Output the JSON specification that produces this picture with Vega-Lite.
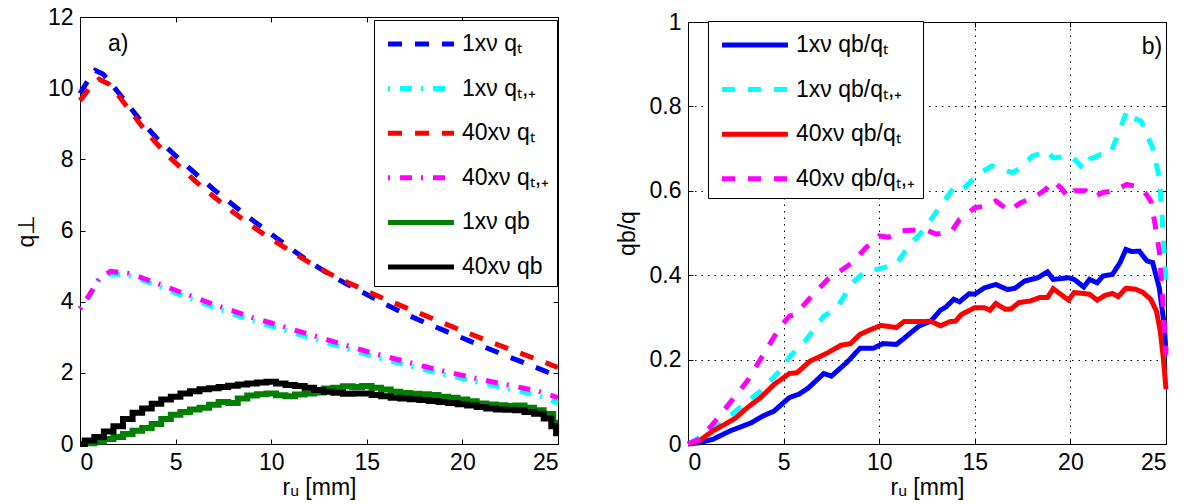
{
  "$schema": "https://vega.github.io/schema/vega-lite/v6.json",
  "padding": {"left": 14, "top": 5, "right": 0, "bottom": 0},
  "config": {
    "font": "Liberation Sans",
    "view": {"stroke": "black", "strokeWidth": 1},
    "axis": {
      "domain": false, "grid": false,
      "tickColor": "black", "tickSize": -5, "tickWidth": 1,
      "labelFont": "Liberation Sans", "labelFontSize": 23, "labelColor": "black", "labelPadding": 12,
      "titleFont": "Liberation Sans", "titleFontSize": 23, "titleFontWeight": "normal", "titleColor": "black"
    },
    "legend": {
      "labelFont": "Liberation Sans", "labelFontSize": 23, "labelColor": "black",
      "symbolType": "M-0.69,0H3.86", "symbolSize": 841, "symbolStrokeWidth": 5,
      "strokeColor": "black", "fillColor": "white", "padding": 7, "labelOffset": 47, "rowPadding": 15.6
    }
  },
  "resolve": {
    "scale": {"color": "independent", "strokeDash": "independent"},
    "legend": {"color": "independent", "strokeDash": "independent"}
  },
  "datasets": {
    "left": [
      {"s": "1xν qₜ", "r": 0, "q": 9.85}, {"s": "1xν qₜ", "r": 0.4, "q": 10.2}, {"s": "1xν qₜ", "r": 0.8, "q": 10.5}, {"s": "1xν qₜ", "r": 1.2, "q": 10.4},
      {"s": "1xν qₜ", "r": 1.6, "q": 10.15}, {"s": "1xν qₜ", "r": 2, "q": 9.88}, {"s": "1xν qₜ", "r": 2.5, "q": 9.55}, {"s": "1xν qₜ", "r": 3, "q": 9.2},
      {"s": "1xν qₜ", "r": 3.5, "q": 8.9}, {"s": "1xν qₜ", "r": 4, "q": 8.6}, {"s": "1xν qₜ", "r": 4.5, "q": 8.35}, {"s": "1xν qₜ", "r": 5, "q": 8.1},
      {"s": "1xν qₜ", "r": 6, "q": 7.62}, {"s": "1xν qₜ", "r": 7, "q": 7.15}, {"s": "1xν qₜ", "r": 8, "q": 6.72}, {"s": "1xν qₜ", "r": 9, "q": 6.3},
      {"s": "1xν qₜ", "r": 10, "q": 5.9}, {"s": "1xν qₜ", "r": 11, "q": 5.5}, {"s": "1xν qₜ", "r": 12, "q": 5.12}, {"s": "1xν qₜ", "r": 13, "q": 4.78},
      {"s": "1xν qₜ", "r": 14, "q": 4.48}, {"s": "1xν qₜ", "r": 15, "q": 4.2}, {"s": "1xν qₜ", "r": 16, "q": 3.92}, {"s": "1xν qₜ", "r": 17, "q": 3.66},
      {"s": "1xν qₜ", "r": 18, "q": 3.42}, {"s": "1xν qₜ", "r": 19, "q": 3.2}, {"s": "1xν qₜ", "r": 20, "q": 2.98}, {"s": "1xν qₜ", "r": 21, "q": 2.76},
      {"s": "1xν qₜ", "r": 22, "q": 2.54}, {"s": "1xν qₜ", "r": 23, "q": 2.33}, {"s": "1xν qₜ", "r": 24, "q": 2.12}, {"s": "1xν qₜ", "r": 25, "q": 1.9},

      {"s": "1xν qₜ,₊", "r": 0, "q": 3.8}, {"s": "1xν qₜ,₊", "r": 0.5, "q": 4.15}, {"s": "1xν qₜ,₊", "r": 1, "q": 4.6}, {"s": "1xν qₜ,₊", "r": 1.6, "q": 4.78},
      {"s": "1xν qₜ,₊", "r": 2.5, "q": 4.75}, {"s": "1xν qₜ,₊", "r": 3, "q": 4.66}, {"s": "1xν qₜ,₊", "r": 4, "q": 4.46}, {"s": "1xν qₜ,₊", "r": 5, "q": 4.24},
      {"s": "1xν qₜ,₊", "r": 6, "q": 4.04}, {"s": "1xν qₜ,₊", "r": 7, "q": 3.84}, {"s": "1xν qₜ,₊", "r": 8, "q": 3.65}, {"s": "1xν qₜ,₊", "r": 9, "q": 3.47},
      {"s": "1xν qₜ,₊", "r": 10, "q": 3.31}, {"s": "1xν qₜ,₊", "r": 11, "q": 3.15}, {"s": "1xν qₜ,₊", "r": 12, "q": 2.99}, {"s": "1xν qₜ,₊", "r": 13, "q": 2.83},
      {"s": "1xν qₜ,₊", "r": 14, "q": 2.67}, {"s": "1xν qₜ,₊", "r": 15, "q": 2.51}, {"s": "1xν qₜ,₊", "r": 16, "q": 2.37}, {"s": "1xν qₜ,₊", "r": 17, "q": 2.23},
      {"s": "1xν qₜ,₊", "r": 18, "q": 2.09}, {"s": "1xν qₜ,₊", "r": 19, "q": 1.96}, {"s": "1xν qₜ,₊", "r": 20, "q": 1.84}, {"s": "1xν qₜ,₊", "r": 21, "q": 1.72},
      {"s": "1xν qₜ,₊", "r": 22, "q": 1.6}, {"s": "1xν qₜ,₊", "r": 23, "q": 1.48}, {"s": "1xν qₜ,₊", "r": 24, "q": 1.36}, {"s": "1xν qₜ,₊", "r": 25, "q": 1.15},

      {"s": "40xν qₜ", "r": 0, "q": 9.65}, {"s": "40xν qₜ", "r": 0.5, "q": 10.0}, {"s": "40xν qₜ", "r": 1, "q": 10.25}, {"s": "40xν qₜ", "r": 1.5, "q": 10.12},
      {"s": "40xν qₜ", "r": 2, "q": 9.8}, {"s": "40xν qₜ", "r": 2.5, "q": 9.45}, {"s": "40xν qₜ", "r": 3, "q": 9.1}, {"s": "40xν qₜ", "r": 3.5, "q": 8.75},
      {"s": "40xν qₜ", "r": 4, "q": 8.45}, {"s": "40xν qₜ", "r": 4.5, "q": 8.15}, {"s": "40xν qₜ", "r": 5, "q": 7.9}, {"s": "40xν qₜ", "r": 6, "q": 7.4},
      {"s": "40xν qₜ", "r": 7, "q": 6.95}, {"s": "40xν qₜ", "r": 8, "q": 6.52}, {"s": "40xν qₜ", "r": 9, "q": 6.12}, {"s": "40xν qₜ", "r": 10, "q": 5.76},
      {"s": "40xν qₜ", "r": 11, "q": 5.42}, {"s": "40xν qₜ", "r": 12, "q": 5.1}, {"s": "40xν qₜ", "r": 13, "q": 4.8}, {"s": "40xν qₜ", "r": 14, "q": 4.54},
      {"s": "40xν qₜ", "r": 15, "q": 4.3}, {"s": "40xν qₜ", "r": 16, "q": 4.06}, {"s": "40xν qₜ", "r": 17, "q": 3.84}, {"s": "40xν qₜ", "r": 18, "q": 3.62},
      {"s": "40xν qₜ", "r": 19, "q": 3.4}, {"s": "40xν qₜ", "r": 20, "q": 3.18}, {"s": "40xν qₜ", "r": 21, "q": 2.97}, {"s": "40xν qₜ", "r": 22, "q": 2.76},
      {"s": "40xν qₜ", "r": 23, "q": 2.56}, {"s": "40xν qₜ", "r": 24, "q": 2.36}, {"s": "40xν qₜ", "r": 25, "q": 2.15},

      {"s": "40xν qₜ,₊", "r": 0, "q": 3.8}, {"s": "40xν qₜ,₊", "r": 0.5, "q": 4.2}, {"s": "40xν qₜ,₊", "r": 1, "q": 4.65}, {"s": "40xν qₜ,₊", "r": 1.6, "q": 4.85},
      {"s": "40xν qₜ,₊", "r": 2.5, "q": 4.8}, {"s": "40xν qₜ,₊", "r": 3, "q": 4.72}, {"s": "40xν qₜ,₊", "r": 4, "q": 4.52}, {"s": "40xν qₜ,₊", "r": 5, "q": 4.32},
      {"s": "40xν qₜ,₊", "r": 6, "q": 4.12}, {"s": "40xν qₜ,₊", "r": 7, "q": 3.92}, {"s": "40xν qₜ,₊", "r": 8, "q": 3.74}, {"s": "40xν qₜ,₊", "r": 9, "q": 3.56},
      {"s": "40xν qₜ,₊", "r": 10, "q": 3.4}, {"s": "40xν qₜ,₊", "r": 11, "q": 3.24}, {"s": "40xν qₜ,₊", "r": 12, "q": 3.08}, {"s": "40xν qₜ,₊", "r": 13, "q": 2.92},
      {"s": "40xν qₜ,₊", "r": 14, "q": 2.76}, {"s": "40xν qₜ,₊", "r": 15, "q": 2.6}, {"s": "40xν qₜ,₊", "r": 16, "q": 2.46}, {"s": "40xν qₜ,₊", "r": 17, "q": 2.32},
      {"s": "40xν qₜ,₊", "r": 18, "q": 2.18}, {"s": "40xν qₜ,₊", "r": 19, "q": 2.05}, {"s": "40xν qₜ,₊", "r": 20, "q": 1.93}, {"s": "40xν qₜ,₊", "r": 21, "q": 1.81},
      {"s": "40xν qₜ,₊", "r": 22, "q": 1.7}, {"s": "40xν qₜ,₊", "r": 23, "q": 1.59}, {"s": "40xν qₜ,₊", "r": 24, "q": 1.48}, {"s": "40xν qₜ,₊", "r": 25, "q": 1.3},

      {"s": "1xν qb", "r": 0, "q": 0}, {"s": "1xν qb", "r": 0.5, "q": 0.02}, {"s": "1xν qb", "r": 1, "q": 0.07}, {"s": "1xν qb", "r": 1.5, "q": 0.14},
      {"s": "1xν qb", "r": 2, "q": 0.2}, {"s": "1xν qb", "r": 2.5, "q": 0.28}, {"s": "1xν qb", "r": 3, "q": 0.37}, {"s": "1xν qb", "r": 3.5, "q": 0.45},
      {"s": "1xν qb", "r": 4, "q": 0.56}, {"s": "1xν qb", "r": 4.5, "q": 0.7}, {"s": "1xν qb", "r": 5, "q": 0.82}, {"s": "1xν qb", "r": 5.5, "q": 0.9},
      {"s": "1xν qb", "r": 6, "q": 0.97}, {"s": "1xν qb", "r": 6.5, "q": 1.02}, {"s": "1xν qb", "r": 7, "q": 1.1}, {"s": "1xν qb", "r": 7.5, "q": 1.18},
      {"s": "1xν qb", "r": 8, "q": 1.15}, {"s": "1xν qb", "r": 8.5, "q": 1.28}, {"s": "1xν qb", "r": 9, "q": 1.36}, {"s": "1xν qb", "r": 9.5, "q": 1.4},
      {"s": "1xν qb", "r": 10, "q": 1.42}, {"s": "1xν qb", "r": 10.5, "q": 1.37}, {"s": "1xν qb", "r": 11, "q": 1.34}, {"s": "1xν qb", "r": 11.5, "q": 1.39},
      {"s": "1xν qb", "r": 12, "q": 1.42}, {"s": "1xν qb", "r": 12.5, "q": 1.45}, {"s": "1xν qb", "r": 13, "q": 1.56}, {"s": "1xν qb", "r": 13.5, "q": 1.58},
      {"s": "1xν qb", "r": 14, "q": 1.62}, {"s": "1xν qb", "r": 14.5, "q": 1.6}, {"s": "1xν qb", "r": 15, "q": 1.63}, {"s": "1xν qb", "r": 15.5, "q": 1.58},
      {"s": "1xν qb", "r": 16, "q": 1.53}, {"s": "1xν qb", "r": 16.5, "q": 1.47}, {"s": "1xν qb", "r": 17, "q": 1.43}, {"s": "1xν qb", "r": 17.5, "q": 1.41},
      {"s": "1xν qb", "r": 18, "q": 1.4}, {"s": "1xν qb", "r": 18.5, "q": 1.38}, {"s": "1xν qb", "r": 19, "q": 1.33}, {"s": "1xν qb", "r": 19.5, "q": 1.3},
      {"s": "1xν qb", "r": 20, "q": 1.25}, {"s": "1xν qb", "r": 20.5, "q": 1.2}, {"s": "1xν qb", "r": 21, "q": 1.14}, {"s": "1xν qb", "r": 21.5, "q": 1.11},
      {"s": "1xν qb", "r": 22, "q": 1.09}, {"s": "1xν qb", "r": 22.5, "q": 1.07}, {"s": "1xν qb", "r": 23, "q": 1.08}, {"s": "1xν qb", "r": 23.5, "q": 1.02},
      {"s": "1xν qb", "r": 24, "q": 0.95}, {"s": "1xν qb", "r": 24.5, "q": 0.84}, {"s": "1xν qb", "r": 25, "q": 0.6},

      {"s": "40xν qb", "r": 0, "q": 0}, {"s": "40xν qb", "r": 0.5, "q": 0.1}, {"s": "40xν qb", "r": 1, "q": 0.2}, {"s": "40xν qb", "r": 1.5, "q": 0.35},
      {"s": "40xν qb", "r": 2, "q": 0.5}, {"s": "40xν qb", "r": 2.5, "q": 0.7}, {"s": "40xν qb", "r": 3, "q": 0.88}, {"s": "40xν qb", "r": 3.5, "q": 1.0},
      {"s": "40xν qb", "r": 4, "q": 1.13}, {"s": "40xν qb", "r": 4.5, "q": 1.25}, {"s": "40xν qb", "r": 5, "q": 1.33}, {"s": "40xν qb", "r": 5.5, "q": 1.42},
      {"s": "40xν qb", "r": 6, "q": 1.48}, {"s": "40xν qb", "r": 6.5, "q": 1.54}, {"s": "40xν qb", "r": 7, "q": 1.57}, {"s": "40xν qb", "r": 7.5, "q": 1.6},
      {"s": "40xν qb", "r": 8, "q": 1.64}, {"s": "40xν qb", "r": 8.5, "q": 1.67}, {"s": "40xν qb", "r": 9, "q": 1.7}, {"s": "40xν qb", "r": 9.5, "q": 1.73},
      {"s": "40xν qb", "r": 10, "q": 1.75}, {"s": "40xν qb", "r": 10.5, "q": 1.7}, {"s": "40xν qb", "r": 11, "q": 1.66}, {"s": "40xν qb", "r": 11.5, "q": 1.63},
      {"s": "40xν qb", "r": 12, "q": 1.58}, {"s": "40xν qb", "r": 12.5, "q": 1.52}, {"s": "40xν qb", "r": 13, "q": 1.47}, {"s": "40xν qb", "r": 13.5, "q": 1.44},
      {"s": "40xν qb", "r": 14, "q": 1.41}, {"s": "40xν qb", "r": 14.5, "q": 1.42}, {"s": "40xν qb", "r": 15, "q": 1.42}, {"s": "40xν qb", "r": 15.5, "q": 1.38},
      {"s": "40xν qb", "r": 16, "q": 1.34}, {"s": "40xν qb", "r": 16.5, "q": 1.3}, {"s": "40xν qb", "r": 17, "q": 1.28}, {"s": "40xν qb", "r": 17.5, "q": 1.26},
      {"s": "40xν qb", "r": 18, "q": 1.24}, {"s": "40xν qb", "r": 18.5, "q": 1.21}, {"s": "40xν qb", "r": 19, "q": 1.18}, {"s": "40xν qb", "r": 19.5, "q": 1.15},
      {"s": "40xν qb", "r": 20, "q": 1.12}, {"s": "40xν qb", "r": 20.5, "q": 1.08}, {"s": "40xν qb", "r": 21, "q": 1.04}, {"s": "40xν qb", "r": 21.5, "q": 1.0},
      {"s": "40xν qb", "r": 22, "q": 0.97}, {"s": "40xν qb", "r": 22.5, "q": 0.96}, {"s": "40xν qb", "r": 23, "q": 0.95}, {"s": "40xν qb", "r": 23.5, "q": 0.9},
      {"s": "40xν qb", "r": 24, "q": 0.85}, {"s": "40xν qb", "r": 24.5, "q": 0.72}, {"s": "40xν qb", "r": 24.8, "q": 0.5}, {"s": "40xν qb", "r": 25, "q": 0.3}
    ],
    "right": [
      {"s": "1xν qb/qₜ", "r": 0, "q": 0}, {"s": "1xν qb/qₜ", "r": 0.6, "q": 0.003}, {"s": "1xν qb/qₜ", "r": 1.3, "q": 0.011}, {"s": "1xν qb/qₜ", "r": 2.2, "q": 0.031},
      {"s": "1xν qb/qₜ", "r": 3.3, "q": 0.05}, {"s": "1xν qb/qₜ", "r": 3.9, "q": 0.066}, {"s": "1xν qb/qₜ", "r": 4.5, "q": 0.078}, {"s": "1xν qb/qₜ", "r": 5.3, "q": 0.11},
      {"s": "1xν qb/qₜ", "r": 5.8, "q": 0.118}, {"s": "1xν qb/qₜ", "r": 6.3, "q": 0.133}, {"s": "1xν qb/qₜ", "r": 7.1, "q": 0.167}, {"s": "1xν qb/qₜ", "r": 7.5, "q": 0.161},
      {"s": "1xν qb/qₜ", "r": 8.3, "q": 0.193}, {"s": "1xν qb/qₜ", "r": 9.0, "q": 0.227}, {"s": "1xν qb/qₜ", "r": 9.7, "q": 0.227}, {"s": "1xν qb/qₜ", "r": 10.2, "q": 0.238},
      {"s": "1xν qb/qₜ", "r": 10.9, "q": 0.236}, {"s": "1xν qb/qₜ", "r": 11.5, "q": 0.258}, {"s": "1xν qb/qₜ", "r": 12.1, "q": 0.28}, {"s": "1xν qb/qₜ", "r": 12.7, "q": 0.291},
      {"s": "1xν qb/qₜ", "r": 13.2, "q": 0.317}, {"s": "1xν qb/qₜ", "r": 13.5, "q": 0.325}, {"s": "1xν qb/qₜ", "r": 13.9, "q": 0.343}, {"s": "1xν qb/qₜ", "r": 14.2, "q": 0.337},
      {"s": "1xν qb/qₜ", "r": 14.7, "q": 0.356}, {"s": "1xν qb/qₜ", "r": 15.0, "q": 0.355}, {"s": "1xν qb/qₜ", "r": 15.5, "q": 0.37}, {"s": "1xν qb/qₜ", "r": 16.1, "q": 0.378},
      {"s": "1xν qb/qₜ", "r": 16.7, "q": 0.366}, {"s": "1xν qb/qₜ", "r": 17.1, "q": 0.369}, {"s": "1xν qb/qₜ", "r": 17.6, "q": 0.386}, {"s": "1xν qb/qₜ", "r": 18.3, "q": 0.394},
      {"s": "1xν qb/qₜ", "r": 18.8, "q": 0.408}, {"s": "1xν qb/qₜ", "r": 19.1, "q": 0.39}, {"s": "1xν qb/qₜ", "r": 19.9, "q": 0.394}, {"s": "1xν qb/qₜ", "r": 20.2, "q": 0.39},
      {"s": "1xν qb/qₜ", "r": 20.7, "q": 0.372}, {"s": "1xν qb/qₜ", "r": 21.0, "q": 0.39}, {"s": "1xν qb/qₜ", "r": 21.4, "q": 0.382}, {"s": "1xν qb/qₜ", "r": 21.7, "q": 0.398},
      {"s": "1xν qb/qₜ", "r": 22.2, "q": 0.402}, {"s": "1xν qb/qₜ", "r": 22.6, "q": 0.43}, {"s": "1xν qb/qₜ", "r": 22.9, "q": 0.461}, {"s": "1xν qb/qₜ", "r": 23.2, "q": 0.456},
      {"s": "1xν qb/qₜ", "r": 23.6, "q": 0.457}, {"s": "1xν qb/qₜ", "r": 24.0, "q": 0.434}, {"s": "1xν qb/qₜ", "r": 24.3, "q": 0.43}, {"s": "1xν qb/qₜ", "r": 24.65, "q": 0.37},
      {"s": "1xν qb/qₜ", "r": 24.9, "q": 0.284}, {"s": "1xν qb/qₜ", "r": 25, "q": 0.22},

      {"s": "1xν qb/qₜ,₊", "r": 0, "q": 0}, {"s": "1xν qb/qₜ,₊", "r": 0.6, "q": 0.015}, {"s": "1xν qb/qₜ,₊", "r": 1.7, "q": 0.047}, {"s": "1xν qb/qₜ,₊", "r": 2.7, "q": 0.086},
      {"s": "1xν qb/qₜ,₊", "r": 3.8, "q": 0.126}, {"s": "1xν qb/qₜ,₊", "r": 4.8, "q": 0.173}, {"s": "1xν qb/qₜ,₊", "r": 5.3, "q": 0.206}, {"s": "1xν qb/qₜ,₊", "r": 6.2, "q": 0.248},
      {"s": "1xν qb/qₜ,₊", "r": 7.1, "q": 0.303}, {"s": "1xν qb/qₜ,₊", "r": 7.8, "q": 0.323}, {"s": "1xν qb/qₜ,₊", "r": 8.6, "q": 0.382}, {"s": "1xν qb/qₜ,₊", "r": 9.3, "q": 0.41},
      {"s": "1xν qb/qₜ,₊", "r": 9.9, "q": 0.414}, {"s": "1xν qb/qₜ,₊", "r": 10.9, "q": 0.426}, {"s": "1xν qb/qₜ,₊", "r": 11.6, "q": 0.473}, {"s": "1xν qb/qₜ,₊", "r": 12.3, "q": 0.505},
      {"s": "1xν qb/qₜ,₊", "r": 13.2, "q": 0.564}, {"s": "1xν qb/qₜ,₊", "r": 13.9, "q": 0.607}, {"s": "1xν qb/qₜ,₊", "r": 14.3, "q": 0.6}, {"s": "1xν qb/qₜ,₊", "r": 14.9, "q": 0.627},
      {"s": "1xν qb/qₜ,₊", "r": 15.2, "q": 0.64}, {"s": "1xν qb/qₜ,₊", "r": 15.9, "q": 0.659}, {"s": "1xν qb/qₜ,₊", "r": 16.3, "q": 0.651}, {"s": "1xν qb/qₜ,₊", "r": 17.0, "q": 0.643},
      {"s": "1xν qb/qₜ,₊", "r": 17.4, "q": 0.655}, {"s": "1xν qb/qₜ,₊", "r": 18.0, "q": 0.682}, {"s": "1xν qb/qₜ,₊", "r": 18.8, "q": 0.694}, {"s": "1xν qb/qₜ,₊", "r": 19.1, "q": 0.678},
      {"s": "1xν qb/qₜ,₊", "r": 20.0, "q": 0.682}, {"s": "1xν qb/qₜ,₊", "r": 20.3, "q": 0.671}, {"s": "1xν qb/qₜ,₊", "r": 20.7, "q": 0.651}, {"s": "1xν qb/qₜ,₊", "r": 21.0, "q": 0.675},
      {"s": "1xν qb/qₜ,₊", "r": 21.6, "q": 0.686}, {"s": "1xν qb/qₜ,₊", "r": 22.1, "q": 0.69}, {"s": "1xν qb/qₜ,₊", "r": 22.5, "q": 0.734}, {"s": "1xν qb/qₜ,₊", "r": 22.95, "q": 0.789},
      {"s": "1xν qb/qₜ,₊", "r": 23.3, "q": 0.773}, {"s": "1xν qb/qₜ,₊", "r": 23.7, "q": 0.765}, {"s": "1xν qb/qₜ,₊", "r": 24.3, "q": 0.702}, {"s": "1xν qb/qₜ,₊", "r": 24.65, "q": 0.631},
      {"s": "1xν qb/qₜ,₊", "r": 24.8, "q": 0.536}, {"s": "1xν qb/qₜ,₊", "r": 24.9, "q": 0.457}, {"s": "1xν qb/qₜ,₊", "r": 25, "q": 0.39},

      {"s": "40xν qb/qₜ", "r": 0, "q": 0}, {"s": "40xν qb/qₜ", "r": 0.6, "q": 0.008}, {"s": "40xν qb/qₜ", "r": 1.3, "q": 0.031}, {"s": "40xν qb/qₜ", "r": 1.9, "q": 0.046},
      {"s": "40xν qb/qₜ", "r": 2.5, "q": 0.062}, {"s": "40xν qb/qₜ", "r": 3.1, "q": 0.086}, {"s": "40xν qb/qₜ", "r": 3.8, "q": 0.11}, {"s": "40xν qb/qₜ", "r": 4.5, "q": 0.141},
      {"s": "40xν qb/qₜ", "r": 5.3, "q": 0.167}, {"s": "40xν qb/qₜ", "r": 5.7, "q": 0.169}, {"s": "40xν qb/qₜ", "r": 6.4, "q": 0.197}, {"s": "40xν qb/qₜ", "r": 6.8, "q": 0.205},
      {"s": "40xν qb/qₜ", "r": 7.3, "q": 0.216}, {"s": "40xν qb/qₜ", "r": 8.0, "q": 0.234}, {"s": "40xν qb/qₜ", "r": 8.5, "q": 0.238}, {"s": "40xν qb/qₜ", "r": 9.0, "q": 0.26},
      {"s": "40xν qb/qₜ", "r": 9.6, "q": 0.272}, {"s": "40xν qb/qₜ", "r": 10.1, "q": 0.281}, {"s": "40xν qb/qₜ", "r": 10.9, "q": 0.276}, {"s": "40xν qb/qₜ", "r": 11.3, "q": 0.29},
      {"s": "40xν qb/qₜ", "r": 12.1, "q": 0.29}, {"s": "40xν qb/qₜ", "r": 12.7, "q": 0.291}, {"s": "40xν qb/qₜ", "r": 13.2, "q": 0.28}, {"s": "40xν qb/qₜ", "r": 13.7, "q": 0.29},
      {"s": "40xν qb/qₜ", "r": 14.0, "q": 0.291}, {"s": "40xν qb/qₜ", "r": 14.3, "q": 0.307}, {"s": "40xν qb/qₜ", "r": 15.0, "q": 0.323}, {"s": "40xν qb/qₜ", "r": 15.5, "q": 0.323},
      {"s": "40xν qb/qₜ", "r": 15.8, "q": 0.317}, {"s": "40xν qb/qₜ", "r": 16.1, "q": 0.333}, {"s": "40xν qb/qₜ", "r": 16.6, "q": 0.319}, {"s": "40xν qb/qₜ", "r": 16.9, "q": 0.32},
      {"s": "40xν qb/qₜ", "r": 17.3, "q": 0.335}, {"s": "40xν qb/qₜ", "r": 17.9, "q": 0.339}, {"s": "40xν qb/qₜ", "r": 18.4, "q": 0.347}, {"s": "40xν qb/qₜ", "r": 18.8, "q": 0.347},
      {"s": "40xν qb/qₜ", "r": 19.1, "q": 0.368}, {"s": "40xν qb/qₜ", "r": 19.9, "q": 0.341}, {"s": "40xν qb/qₜ", "r": 20.2, "q": 0.359}, {"s": "40xν qb/qₜ", "r": 21.0, "q": 0.355},
      {"s": "40xν qb/qₜ", "r": 21.4, "q": 0.341}, {"s": "40xν qb/qₜ", "r": 21.8, "q": 0.352}, {"s": "40xν qb/qₜ", "r": 22.2, "q": 0.357}, {"s": "40xν qb/qₜ", "r": 22.5, "q": 0.349},
      {"s": "40xν qb/qₜ", "r": 22.9, "q": 0.369}, {"s": "40xν qb/qₜ", "r": 23.4, "q": 0.367}, {"s": "40xν qb/qₜ", "r": 23.8, "q": 0.359}, {"s": "40xν qb/qₜ", "r": 24.2, "q": 0.343},
      {"s": "40xν qb/qₜ", "r": 24.5, "q": 0.315}, {"s": "40xν qb/qₜ", "r": 24.7, "q": 0.268}, {"s": "40xν qb/qₜ", "r": 24.86, "q": 0.204}, {"s": "40xν qb/qₜ", "r": 25, "q": 0.13},

      {"s": "40xν qb/qₜ,₊", "r": 0, "q": 0}, {"s": "40xν qb/qₜ,₊", "r": 0.6, "q": 0.012}, {"s": "40xν qb/qₜ,₊", "r": 1.3, "q": 0.047}, {"s": "40xν qb/qₜ,₊", "r": 2.2, "q": 0.098},
      {"s": "40xν qb/qₜ,₊", "r": 3.1, "q": 0.149}, {"s": "40xν qb/qₜ,₊", "r": 3.9, "q": 0.209}, {"s": "40xν qb/qₜ,₊", "r": 4.8, "q": 0.276}, {"s": "40xν qb/qₜ,₊", "r": 5.3, "q": 0.303},
      {"s": "40xν qb/qₜ,₊", "r": 5.6, "q": 0.306}, {"s": "40xν qb/qₜ,₊", "r": 6.4, "q": 0.347}, {"s": "40xν qb/qₜ,₊", "r": 7.3, "q": 0.39}, {"s": "40xν qb/qₜ,₊", "r": 8.1, "q": 0.414},
      {"s": "40xν qb/qₜ,₊", "r": 8.6, "q": 0.43}, {"s": "40xν qb/qₜ,₊", "r": 9.3, "q": 0.465}, {"s": "40xν qb/qₜ,₊", "r": 10.0, "q": 0.493}, {"s": "40xν qb/qₜ,₊", "r": 10.5, "q": 0.49},
      {"s": "40xν qb/qₜ,₊", "r": 11.1, "q": 0.505}, {"s": "40xν qb/qₜ,₊", "r": 11.9, "q": 0.507}, {"s": "40xν qb/qₜ,₊", "r": 12.4, "q": 0.508}, {"s": "40xν qb/qₜ,₊", "r": 13.0, "q": 0.497},
      {"s": "40xν qb/qₜ,₊", "r": 13.8, "q": 0.505}, {"s": "40xν qb/qₜ,₊", "r": 14.2, "q": 0.532}, {"s": "40xν qb/qₜ,₊", "r": 15.0, "q": 0.56}, {"s": "40xν qb/qₜ,₊", "r": 15.6, "q": 0.564},
      {"s": "40xν qb/qₜ,₊", "r": 16.1, "q": 0.576}, {"s": "40xν qb/qₜ,₊", "r": 16.8, "q": 0.552}, {"s": "40xν qb/qₜ,₊", "r": 17.4, "q": 0.572}, {"s": "40xν qb/qₜ,₊", "r": 18.1, "q": 0.584},
      {"s": "40xν qb/qₜ,₊", "r": 18.7, "q": 0.603}, {"s": "40xν qb/qₜ,₊", "r": 19.1, "q": 0.623}, {"s": "40xν qb/qₜ,₊", "r": 19.5, "q": 0.607}, {"s": "40xν qb/qₜ,₊", "r": 19.9, "q": 0.584},
      {"s": "40xν qb/qₜ,₊", "r": 20.2, "q": 0.6}, {"s": "40xν qb/qₜ,₊", "r": 20.8, "q": 0.6}, {"s": "40xν qb/qₜ,₊", "r": 21.2, "q": 0.585}, {"s": "40xν qb/qₜ,₊", "r": 21.7, "q": 0.596},
      {"s": "40xν qb/qₜ,₊", "r": 22.3, "q": 0.6}, {"s": "40xν qb/qₜ,₊", "r": 22.95, "q": 0.615}, {"s": "40xν qb/qₜ,₊", "r": 23.4, "q": 0.611}, {"s": "40xν qb/qₜ,₊", "r": 23.9, "q": 0.596},
      {"s": "40xν qb/qₜ,₊", "r": 24.2, "q": 0.576}, {"s": "40xν qb/qₜ,₊", "r": 24.4, "q": 0.528}, {"s": "40xν qb/qₜ,₊", "r": 24.65, "q": 0.457}, {"s": "40xν qb/qₜ,₊", "r": 24.8, "q": 0.363},
      {"s": "40xν qb/qₜ,₊", "r": 24.9, "q": 0.284}, {"s": "40xν qb/qₜ,₊", "r": 25, "q": 0.21}
    ]
  },
  "bounds": "flush",
  "spacing": 130,
  "hconcat": [
    {
      "width": 478,
      "height": 427,
      "resolve": {"axis": {"x": "independent", "y": "independent"}},
      "layer": [
        {
          "data": {"name": "left"},
          "transform": [{"filter": "indexof(datum.s, 'qb') < 0"}],
          "mark": {"type": "line", "strokeWidth": 5, "strokeCap": "butt", "strokeJoin": "miter"},
          "encoding": {
            "x": {"field": "r", "type": "quantitative", "scale": {"domain": [0, 25], "nice": false},
                  "axis": {"orient": "bottom", "values": [0, 5, 10, 15, 20, 25], "title": "rᵤ [mm]", "titlePadding": 2}},
            "y": {"field": "q", "type": "quantitative", "scale": {"domain": [0, 12], "nice": false},
                  "axis": {"orient": "left", "values": [0, 2, 4, 6, 8, 10, 12], "title": "q⊥", "titlePadding": 9}},
            "color": {"field": "s", "type": "nominal",
                      "scale": {"domain": ["1xν qₜ", "1xν qₜ,₊", "40xν qₜ", "40xν qₜ,₊", "1xν qb", "40xν qb"],
                                "range": ["#0000ff", "#00ffff", "#ff0000", "#ff00ff", "#008000", "#000000"]},
                      "legend": {"title": null, "orient": "none", "legendX": 294, "legendY": 3}},
            "strokeDash": {"field": "s", "type": "nominal",
                      "scale": {"domain": ["1xν qₜ", "1xν qₜ,₊", "40xν qₜ", "40xν qₜ,₊", "1xν qb", "40xν qb"],
                                "range": [[14, 13], [2, 10, 12, 9], [14, 13], [2, 10, 12, 9], [1, 0], [1, 0]]},
                      "legend": {"title": null, "orient": "none", "legendX": 294, "legendY": 3}}
          }
        },
        {
          "data": {"name": "left"},
          "transform": [{"filter": "indexof(datum.s, 'qb') >= 0"}],
          "mark": {"type": "line", "strokeWidth": 6, "interpolate": "step", "strokeCap": "butt"},
          "encoding": {
            "x": {"field": "r", "type": "quantitative", "scale": {"domain": [0, 25], "nice": false}, "axis": null},
            "y": {"field": "q", "type": "quantitative", "scale": {"domain": [0, 12], "nice": false}, "axis": null},
            "color": {"field": "s", "type": "nominal"},
            "strokeDash": {"field": "s", "type": "nominal"}
          }
        },
        {
          "data": {"values": [{"label": "a)"}]},
          "mark": {"type": "text", "fontSize": 23, "font": "Liberation Sans", "color": "black", "align": "center", "baseline": "middle"},
          "encoding": {
            "x": {"datum": 2.0, "type": "quantitative", "scale": {"domain": [0, 25], "nice": false},
                  "axis": {"orient": "top", "values": [0, 5, 10, 15, 20, 25], "labels": false, "title": null}},
            "y": {"datum": 11.25, "type": "quantitative", "scale": {"domain": [0, 12], "nice": false},
                  "axis": {"orient": "right", "values": [0, 2, 4, 6, 8, 10, 12], "labels": false, "title": null}},
            "text": {"field": "label"}
          }
        }
      ]
    },
    {
      "bounds": "flush",
      "spacing": 4,
      "vconcat": [
        {
          "width": 478,
          "height": 1,
          "view": {"stroke": null},
          "data": {"values": []},
          "mark": "text"
        },
        {
          "width": 478,
          "height": 422,
          "resolve": {"axis": {"x": "independent", "y": "independent"}},
          "layer": [
            {
              "data": {"name": "right"},
              "mark": {"type": "line", "strokeWidth": 5, "strokeCap": "butt", "strokeJoin": "miter"},
              "encoding": {
                "x": {"field": "r", "type": "quantitative", "scale": {"domain": [0, 25], "nice": false},
                      "axis": {"orient": "bottom", "values": [0, 5, 10, 15, 20, 25], "title": "rᵤ [mm]", "titlePadding": 2,
                               "grid": true, "gridColor": "black", "gridDash": [1.5, 5], "gridWidth": 1, "gridOpacity": 1}},
                "y": {"field": "q", "type": "quantitative", "scale": {"domain": [0, 1], "nice": false},
                      "axis": {"orient": "left", "values": [0, 0.2, 0.4, 0.6, 0.8, 1], "format": "~g", "title": "qb/q", "titlePadding": 10,
                               "grid": true, "gridColor": "black", "gridDash": [1.5, 5], "gridWidth": 1, "gridOpacity": 1}},
                "color": {"field": "s", "type": "nominal",
                          "scale": {"domain": ["1xν qb/qₜ", "1xν qb/qₜ,₊", "40xν qb/qₜ", "40xν qb/qₜ,₊"],
                                    "range": ["#0000ff", "#00ffff", "#ff0000", "#ff00ff"]},
                          "legend": {"title": null, "orient": "none", "legendX": 20, "legendY": 4}},
                "strokeDash": {"field": "s", "type": "nominal",
                          "scale": {"domain": ["1xν qb/qₜ", "1xν qb/qₜ,₊", "40xν qb/qₜ", "40xν qb/qₜ,₊"],
                                    "range": [[1, 0], [13, 13], [1, 0], [13, 13]]},
                          "legend": {"title": null, "orient": "none", "legendX": 20, "legendY": 4}}
              }
            },
            {
              "data": {"values": [{"label": "b)"}]},
              "mark": {"type": "text", "fontSize": 23, "font": "Liberation Sans", "color": "black", "align": "center", "baseline": "middle"},
              "encoding": {
                "x": {"datum": 24.27, "type": "quantitative", "scale": {"domain": [0, 25], "nice": false},
                      "axis": {"orient": "top", "values": [0, 5, 10, 15, 20, 25], "labels": false, "title": null}},
                "y": {"datum": 0.94, "type": "quantitative", "scale": {"domain": [0, 1], "nice": false},
                      "axis": {"orient": "right", "values": [0, 0.2, 0.4, 0.6, 0.8, 1], "labels": false, "title": null}},
                "text": {"field": "label"}
              }
            }
          ]
        }
      ]
    }
  ]
}
